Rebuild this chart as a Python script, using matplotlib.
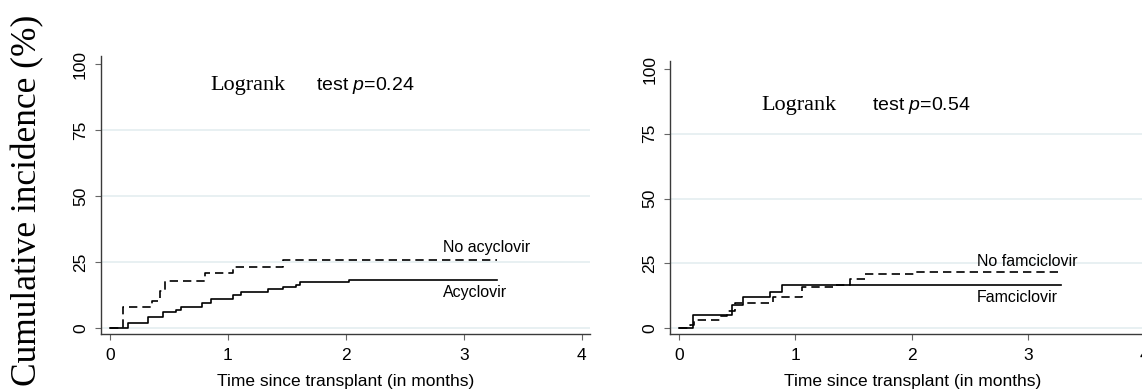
import numpy as np
import matplotlib
matplotlib.use("Agg")
import matplotlib.pyplot as plt

plt.rcParams['font.family'] = ['Liberation Sans', 'DejaVu Sans']
plt.rcParams['mathtext.fontset'] = 'custom'
plt.rcParams['mathtext.rm'] = 'Liberation Sans'
plt.rcParams['mathtext.it'] = 'Liberation Sans:italic'

# DATA
acy_t = [0, 0.155, 0.325, 0.45, 0.56, 0.60, 0.78, 0.86, 1.045, 1.11, 1.34, 1.47, 1.58, 1.61, 2.03, 3.28]
acy_y = [0, 1.8, 4.3, 5.9, 7.0, 7.8, 9.6, 11.0, 12.5, 13.8, 14.6, 15.7, 16.3, 17.5, 18.2, 18.2]
noacy_t = [0, 0.11, 0.353, 0.42, 0.47, 0.805, 1.045, 1.47, 3.28]
noacy_y = [0, 7.8, 10.2, 14.0, 17.9, 20.7, 23.0, 25.6, 25.6]

fam_t = [0, 0.123, 0.453, 0.553, 0.78, 0.883, 3.28]
fam_y = [0, 5.0, 8.9, 11.8, 14.0, 16.6, 16.6]
nofam_t = [0, 0.095, 0.13, 0.353, 0.41, 0.48, 0.81, 1.055, 1.34, 1.47, 1.60, 2.03, 3.28]
nofam_y = [0, 1.0, 3.1, 4.6, 6.6, 9.8, 12.1, 15.9, 16.7, 18.8, 20.8, 21.5, 21.5]

yticks = [0, 25, 50, 75, 100]
xticks = [0, 1, 2, 3, 4]
xlabel = "Time since transplant (in months)"

fig = plt.figure(figsize=(11.42, 3.92), dpi=100)
ax1 = fig.add_axes([0.0881, 0.1477, 0.4285, 0.709])
ax2 = fig.add_axes([0.5867, 0.148, 0.4256, 0.697])

grid_col = '#e6eff1'
axis_col = '#3a3a3a'


def style(ax, xlim, ylim):
    ax.set_xlim(*xlim)
    ax.set_ylim(*ylim)
    for s in ['top', 'right']:
        ax.spines[s].set_visible(False)
    for s in ['left', 'bottom']:
        ax.spines[s].set_color(axis_col)
        ax.spines[s].set_linewidth(1.0)
    ax.set_yticks(yticks)
    ax.set_xticks(xticks)
    ax.tick_params(axis='y', length=4, width=0.8, color='#666666', pad=5,
                   labelsize=12.5, labelrotation=90)
    for lab in ax.get_yticklabels():
        lab.set_va('center')
    ax.tick_params(axis='x', length=4, width=0.8, color='#666666', pad=6,
                   labelsize=12.5)
    for v in yticks[:-1]:
        ax.axhline(v, color=grid_col, lw=1.3, zorder=0)
    ax.set_xlabel(xlabel, fontsize=12.5, labelpad=8)


style(ax1, (-0.08, 4.07), (-2.3, 103))
style(ax2, (-0.077, 4.1), (-2.3, 103.2))

ax1.step(acy_t, acy_y, where='post', color='black', lw=1.2)
ax1.step(noacy_t, noacy_y, where='post', color='black', lw=1.2, ls=(0, (5, 3)))
ax2.step(fam_t, fam_y, where='post', color='black', lw=1.2)
ax2.step(nofam_t, nofam_y, where='post', color='black', lw=1.2, ls=(0, (5, 3)))

ax1.text(2.82, 30.7, "No acyclovir", fontsize=11.5, va='center')
ax1.text(2.82, 13.6, "Acyclovir", fontsize=11.5, va='center')
ax2.text(2.56, 25.5, "No famciclovir", fontsize=11.5, va='center')
ax2.text(2.56, 11.6, "Famciclovir", fontsize=11.5, va='center')

ax1.text(0.85, 92, "Logrank", family=['Liberation Serif'], fontsize=16, va='center')
ax1.text(1.75, 92, r"test $p$=0.24", fontsize=14, va='center')
ax2.text(0.705, 86, "Logrank", family=['Liberation Serif'], fontsize=16, va='center')
ax2.text(1.66, 86, r"test $p$=0.54", fontsize=14, va='center')

fig.text(0.024, 0.49, "Cumulative incidence (%)", family=['Liberation Serif'],
         fontsize=25.5, rotation=90, ha='center', va='center')

fig.savefig("out.png", dpi=100)
